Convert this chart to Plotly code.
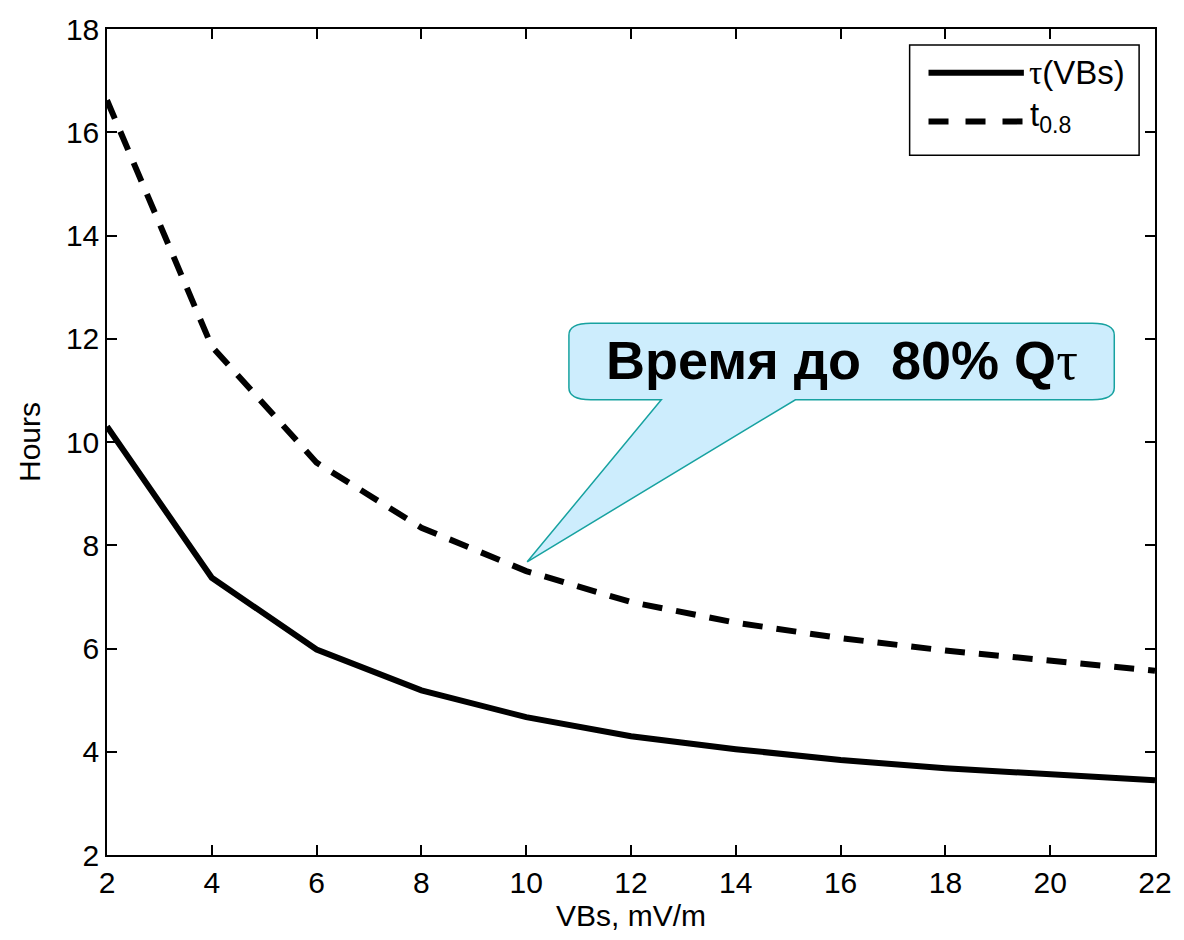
import plotly.graph_objects as go

vbs = [2, 4, 6, 8, 10, 12, 14, 16, 18, 20, 22]
tau = [10.30, 7.37, 5.98, 5.19, 4.67, 4.30, 4.05, 3.84, 3.68, 3.57, 3.45]
t08 = [16.62, 11.85, 9.60, 8.34, 7.50, 6.90, 6.50, 6.20, 5.96, 5.77, 5.57]
x_ticks = [2, 4, 6, 8, 10, 12, 14, 16, 18, 20, 22]
y_ticks = [2, 4, 6, 8, 10, 12, 14, 16, 18]

FONT = "Liberation Sans, Arial, Helvetica, sans-serif"
SERIF = "Liberation Serif, Times New Roman, serif"
W, H = 1184, 940
L, R, T, B = 107, 22, 24, 85

fig = go.Figure()
fig.add_trace(go.Scatter(x=vbs, y=tau, mode="lines", name="τ(VBs)",
                         line=dict(color="black", width=6), showlegend=False))
fig.add_trace(go.Scatter(x=vbs, y=t08, mode="lines", name="t<sub>0.8</sub>",
                         line=dict(color="black", width=6, dash="20px,14px"), showlegend=False))

# helpers: screen pixel -> paper
pw, ph = W - L - R, H - T - B
def px(x): return (x - L) / pw
def py(y): return (H - B - y) / ph

shapes = []
# legend box
shapes.append(dict(type="rect", xref="paper", yref="paper",
                   x0=px(915), x1=px(1146), y0=py(151), y1=py(40),
                   line=dict(color="black", width=1.5), fillcolor="white"))
shapes.append(dict(type="line", xref="paper", yref="paper",
                   x0=px(934), x1=px(1030), y0=py(68), y1=py(68),
                   line=dict(color="black", width=6)))
shapes.append(dict(type="line", xref="paper", yref="paper",
                   x0=px(934), x1=px(1030), y0=py(117), y1=py(117),
                   line=dict(color="black", width=6, dash="20px,17px")))

# callout bubble (pixel geometry -> paper)
xl, xr, yt, yb = 572, 1121, 320, 397
rx, ry = 22, 12
t1, t2, tip = 665, 800, (530, 560)
def P(x, y): return f"{px(x):.5f},{py(y):.5f}"
path = (f"M{P(xl+rx, yt)} L{P(xr-rx, yt)} Q{P(xr, yt)} {P(xr, yt+ry)} "
        f"L{P(xr, yb-ry)} Q{P(xr, yb)} {P(xr-rx, yb)} L{P(t2, yb)} L{P(*tip)} "
        f"L{P(t1, yb)} L{P(xl+rx, yb)} Q{P(xl, yb)} {P(xl, yb-ry)} "
        f"L{P(xl, yt+ry)} Q{P(xl, yt)} {P(xl+rx, yt)} Z")
shapes.append(dict(type="path", xref="paper", yref="paper", path=path,
                   fillcolor="#CDEDFD", line=dict(color="#17A2A0", width=1.5)))

tau_html = f"<span style='font-family:{SERIF}'>τ</span>"
annotations = [
    dict(xref="paper", yref="paper", x=px(1033), y=py(68), xanchor="left", yanchor="middle",
         text=f"{tau_html}(VBs)", showarrow=False, font=dict(family=FONT, size=33, color="black")),
    dict(xref="paper", yref="paper", x=px(1034), y=py(113), xanchor="left", yanchor="middle",
         text="t<sub>0.8</sub>", showarrow=False, font=dict(family=FONT, size=33, color="black")),
    dict(xref="paper", yref="paper", x=px(847), y=py(358), xanchor="center", yanchor="middle",
         text=f"<b>Время до  80% Q</b><span style='font-family:{SERIF}'>τ</span>", showarrow=False,
         font=dict(family=FONT, size=54, color="black")),
]

axis_common = dict(showline=True, linecolor="black", linewidth=1.5, mirror="ticks",
                   ticks="inside", ticklen=10, tickwidth=1.5, tickcolor="black",
                   showgrid=False, zeroline=False,
                   tickfont=dict(family=FONT, size=30, color="black"))

fig.update_layout(
    width=W, height=H,
    margin=dict(l=L, r=R, t=T, b=B),
    paper_bgcolor="white", plot_bgcolor="white",
    xaxis=dict(range=[2, 22], tickvals=x_ticks, ticktext=[str(v) for v in x_ticks],
               title=dict(text="VBs, mV/m", font=dict(family=FONT, size=30, color="black"),
                          standoff=2), **axis_common),
    yaxis=dict(range=[2, 18], tickvals=y_ticks, ticktext=[str(v) for v in y_ticks],
               title=dict(text="Hours", font=dict(family=FONT, size=30, color="black"),
                          standoff=16), **axis_common),
    shapes=shapes, annotations=annotations, showlegend=False,
)

fig.write_html("out.html", config={"displayModeBar": False, "responsive": False},
               post_script="document.body.style.margin='0';document.body.style.overflow='hidden';")
